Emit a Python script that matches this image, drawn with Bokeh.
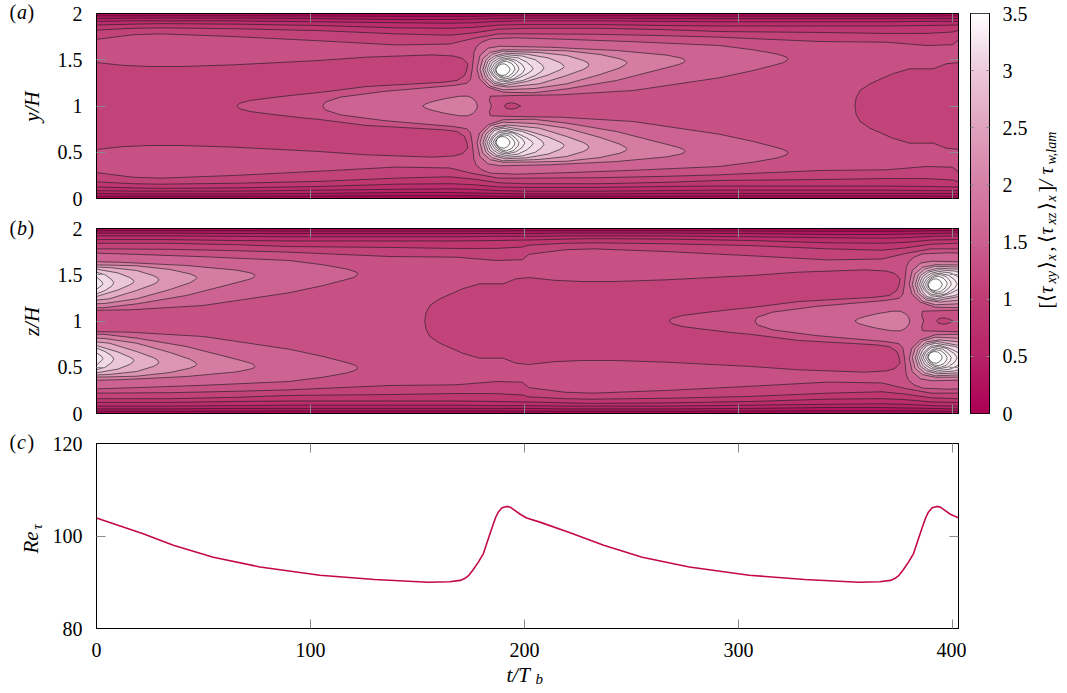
import math
import numpy as np
from bokeh.core.properties import value
from bokeh.embed import file_html
from bokeh.layouts import column, row
from bokeh.models import FixedTicker, LinearAxis, LinearColorMapper, Range1d
from bokeh.plotting import figure
from bokeh.resources import INLINE

# ---- panel (c) : friction Reynolds number
re_t = [0, 21.8, 35.9, 54.6, 76.4, 104.4, 130, 155, 165, 170, 172, 174, 176, 178.5, 180.8, 182.5, 184.7, 186.5, 187.8,
        189.5, 191.7, 193.5, 195.6, 198, 201, 207.2, 221.3, 237, 255, 277, 305, 331, 356, 366, 371, 373, 375, 377,
        379.5, 381.8, 383.5, 385.7, 387.5, 388.8, 390.5, 392.7, 394.5, 396.6, 399, 403]
re_v = [103.9, 100.5, 98, 95.4, 93.3, 91.5, 90.6, 90, 90.1, 90.4, 90.8, 91.5, 92.7, 94.4, 96.2, 98.6, 101.6, 104, 105.2,
        106.1, 106.4, 106.2, 105.5, 104.7, 103.9, 103, 100.7, 98, 95.4, 93.3, 91.5, 90.6, 90, 90.1, 90.4, 90.8, 91.5,
        92.7, 94.4, 96.2, 98.6, 101.6, 104, 105.2, 106.1, 106.4, 106.2, 105.5, 104.7, 103.9]

# ---- contour lines of the upper half of panel (a); the lower half mirrors them about y/H = 1
wall_t = [0, 17, 30, 65, 104, 140, 165, 176, 188, 200, 235, 266, 291, 338, 369, 388, 400, 403]
wall_02 = [1.975, 1.975, 1.975, 1.975, 1.973, 1.97, 1.97, 1.97, 1.975, 1.975, 1.975, 1.975, 1.972, 1.972, 1.972, 1.972, 1.975, 1.975]
wall_04 = [1.945, 1.95, 1.95, 1.95, 1.945, 1.935, 1.935, 1.94, 1.945, 1.95, 1.95, 1.945, 1.945, 1.945, 1.945, 1.945, 1.945, 1.945]
wall_06 = [1.915, 1.92, 1.92, 1.92, 1.91, 1.90, 1.895, 1.90, 1.915, 1.92, 1.92, 1.915, 1.91, 1.91, 1.91, 1.915, 1.915, 1.915]
wall_08 = [1.875, 1.885, 1.89, 1.885, 1.87, 1.845, 1.84, 1.85, 1.875, 1.88, 1.88, 1.87, 1.865, 1.865, 1.865, 1.87, 1.875, 1.875]
wall_10 = [1.82, 1.84, 1.845, 1.835, 1.815, 1.78, 1.765, 1.79, 1.83, 1.84, 1.84, 1.825, 1.805, 1.795, 1.784, 1.785, 1.80, 1.82]
wall_12 = [1.72, 1.77, 1.78, 1.75, 1.705, 1.66, 1.67, 1.73, 1.78, 1.78, 1.775, 1.76, 1.744, 1.697, 1.69, 1.654, 1.662, 1.72]

low_left_t = [0, 12, 25, 40, 64, 104, 126, 157, 167, 171, 173.5, 173, 172, 168.5, 162, 126, 104, 95, 82, 72, 67, 65.6]
low_left_y = [1.47, 1.44, 1.427, 1.427, 1.445, 1.492, 1.528, 1.553, 1.54, 1.515, 1.456, 1.39, 1.33, 1.276, 1.257, 1.21, 1.145, 1.125, 1.09, 1.06, 1.03, 1.0]
low_right_t = [403, 397, 391, 380, 372, 361.4, 356.8, 355, 354.4]
low_right_y = [1.47, 1.456, 1.402, 1.402, 1.348, 1.24, 1.168, 1.09, 1.0]
bowl_t = [190.6, 191.5, 194, 196, 198.2]
bowl_y = [1.0, 1.025, 1.035, 1.025, 1.0]

band14_t = [105.7, 106.8, 113.8, 134, 166.7, 173, 174.8, 175.6, 176.4, 177.5, 180, 184, 196, 220, 251, 291, 307, 318, 321, 322.6, 323, 322.6, 321, 318, 307, 291, 251, 217, 196, 184, 183.6, 184.5]
band14_y = [1.0, 1.041, 1.095, 1.157, 1.222, 1.245, 1.29, 1.402, 1.58, 1.64, 1.69, 1.726, 1.737, 1.72, 1.695, 1.654, 1.607, 1.562, 1.54, 1.525, 1.505, 1.49, 1.47, 1.45, 1.384, 1.305, 1.168, 1.121, 1.114, 1.106, 1.06, 1.0]
tongue16_t = [152.4, 154, 157.3, 163, 169.9, 173.6, 176, 177.5, 178]
tongue16_y = [1.0, 1.025, 1.049, 1.08, 1.106, 1.106, 1.08, 1.04, 1.0]

lobe16_t = [177.8, 179.2, 183, 188.5, 212, 243, 266.5, 272.5, 274.6, 275, 274.4, 272.5, 266.5, 243, 220, 204, 190, 183, 179]
lobe16_y = [1.402, 1.546, 1.625, 1.646, 1.635, 1.6, 1.55, 1.522, 1.505, 1.49, 1.47, 1.452, 1.415, 1.276, 1.186, 1.143, 1.149, 1.204, 1.294]
lobe18_t = [179.2, 180.5, 184, 190, 205, 219.7, 235.3, 244.6, 247.2, 247.9, 247, 244.6, 235.3, 219.7, 205, 190, 184, 180.5]
lobe18_y = [1.395, 1.51, 1.58, 1.608, 1.605, 1.597, 1.557, 1.51, 1.485, 1.467, 1.445, 1.413, 1.34, 1.24, 1.19, 1.175, 1.215, 1.30]
lobe20_t = [180.6, 182, 185, 190, 207, 219.7, 227.5, 229.6, 230.1, 229.4, 227.5, 219.7, 207, 192, 186, 182]
lobe20_y = [1.395, 1.50, 1.56, 1.592, 1.578, 1.546, 1.492, 1.465, 1.445, 1.42, 1.395, 1.33, 1.24, 1.205, 1.225, 1.30]
lobe22_t = [181.5, 183, 186, 191, 201, 211, 216.5, 218, 218.5, 218, 216.5, 211, 201, 191, 186, 183]
lobe22_y = [1.395, 1.49, 1.54, 1.571, 1.56, 1.52, 1.47, 1.445, 1.427, 1.41, 1.39, 1.335, 1.265, 1.222, 1.245, 1.31]
lobe24_t = [182.5, 184, 187, 191.5, 199, 205, 208, 209.1, 208, 205, 199, 190, 186, 184]
lobe24_y = [1.395, 1.48, 1.53, 1.554, 1.54, 1.5, 1.45, 1.413, 1.375, 1.33, 1.275, 1.24, 1.265, 1.32]
lobe26_t = [183.4, 185, 188, 191.5, 197, 201, 203.3, 204, 203.3, 201, 197, 192, 188, 185]
lobe26_y = [1.395, 1.47, 1.515, 1.535, 1.52, 1.475, 1.43, 1.405, 1.38, 1.345, 1.30, 1.262, 1.272, 1.33]
lobe28_t = [184.3, 186, 189, 192, 196, 198.8, 200.2, 199, 195, 191.5, 188, 185.5]
lobe28_y = [1.395, 1.46, 1.505, 1.517, 1.495, 1.45, 1.40, 1.355, 1.295, 1.276, 1.29, 1.34]
lobe30_t = [185.3, 187, 189.5, 192, 195, 197, 197.4, 196, 193.5, 191, 188.5, 186.3]
lobe30_y = [1.395, 1.455, 1.49, 1.503, 1.48, 1.43, 1.395, 1.35, 1.305, 1.294, 1.31, 1.35]
lobe32_t = [186.2, 187.5, 189.5, 191.5, 194, 195.3, 195.5, 194.5, 192.5, 190.5, 188.5, 187]
lobe32_y = [1.395, 1.445, 1.475, 1.484, 1.46, 1.42, 1.395, 1.355, 1.32, 1.311, 1.325, 1.355]
lobe34_t = [186.7, 187.5, 189, 190.5, 192, 193, 193.2, 192.5, 191, 189.5, 188, 187]
lobe34_y = [1.395, 1.43, 1.452, 1.456, 1.44, 1.41, 1.39, 1.36, 1.335, 1.33, 1.34, 1.365]

# colour scale
cmap_v = [0, 0.5, 1, 1.5, 2, 2.5, 3, 3.5]
cmap_r = [174, 184, 192, 204, 214, 225, 237, 255]
cmap_g = [0, 36, 60, 96, 128, 163, 201, 255]
cmap_b = [86, 104, 116, 144, 166, 191, 220, 255]
# shade on the scale that each filled band shows, keyed by the contour that bounds it from below
band_level = [0.2, 0.4, 0.6, 0.8, 1.0, 1.2, 1.4, 1.6, 1.8, 2.0, 2.2, 2.4, 2.6, 2.8, 3.0, 3.2, 3.4]
band_shade = [0.3, 0.5, 0.7, 0.9, 1.1, 1.3, 1.55, 1.95, 2.3, 2.65, 2.95, 3.15, 3.25, 3.32, 3.38, 3.44, 3.5]
y_marks = [0, 0.5, 1, 1.5, 2]
y_inner = [0.5, 1, 1.5]
t_marks = [0, 100, 200, 300, 400]
t_inner = [100, 200, 300, 400]
cb_marks = [0, 0.5, 1, 1.5, 2, 2.5, 3, 3.5]
cb_inner = [0.5, 1, 1.5, 2, 2.5, 3]
re_marks = [80, 100, 120]
re_inner = [100]
SHIFT_A = [0]
SHIFT_B = [202, -201]
T_END = 403

FONT = "Liberation Serif"
GREY = "#8a8a8a"
PX_T = 2.14


def col(v):
    r = np.interp(v, cmap_v, cmap_r)
    g = np.interp(v, cmap_v, cmap_g)
    b = np.interp(v, cmap_v, cmap_b)
    return "#%02x%02x%02x" % (int(r), int(g), int(b))


def mir(y):
    return [2 - v for v in y]


def both_halves(t, y):
    return list(t) + list(t)[::-1], list(y) + mir(y)[::-1]


def pad(t):
    return [v - 1 if v == 0 else v + 1 if v == T_END else v for v in t]


def loop(t, y):
    return list(t) + [t[0]], list(y) + [y[0]]


def field(p, shifts):
    wall = [(0.2, wall_02), (0.4, wall_04), (0.6, wall_06), (0.8, wall_08), (1.0, wall_10), (1.2, wall_12)]
    lobes = [(1.6, lobe16_t, lobe16_y), (1.8, lobe18_t, lobe18_y), (2.0, lobe20_t, lobe20_y), (2.2, lobe22_t, lobe22_y),
             (2.4, lobe24_t, lobe24_y), (2.6, lobe26_t, lobe26_y), (2.8, lobe28_t, lobe28_y), (3.0, lobe30_t, lobe30_y),
             (3.2, lobe32_t, lobe32_y), (3.4, lobe34_t, lobe34_y)]
    layers = []
    for lev, wy in wall:
        layers.append((lev, [both_halves(pad(wall_t), wy)]))
    layers.append((1.0, [both_halves(pad(low_left_t), low_left_y), both_halves(pad(low_right_t), low_right_y),
                         both_halves(bowl_t, bowl_y)]))
    layers.append((1.4, [both_halves(band14_t, band14_y)]))
    layers.append((1.6, [both_halves(tongue16_t, tongue16_y)]))
    for lev, lt, ly in lobes:
        layers.append((lev, [(lt, ly), (lt, mir(ly))]))
    for lev, polys in layers:
        xs, ys = [], []
        for s in shifts:
            for tt, yy in polys:
                xs.append([v + s for v in tt])
                ys.append(list(yy))
        c = col(float(np.interp(lev, band_level, band_shade)))
        p.patches(xs, ys, fill_color=c, line_color=None)

    lx, ly = [], []
    curves = []
    for _, wy in wall:
        curves += [(wall_t, wy), (wall_t, mir(wy))]
    curves += [both_halves(low_left_t, low_left_y), both_halves(low_right_t, low_right_y), both_halves(bowl_t, bowl_y),
               both_halves(band14_t, band14_y), both_halves(tongue16_t, tongue16_y)]
    for _, lt, yy in lobes:
        curves += [loop(lt, yy), loop(lt, mir(yy))]
    for s in shifts:
        for tt, yy in curves:
            lx.append([v + s for v in tt])
            ly.append(list(yy))
    p.multi_line(lx, ly, line_color="#1c1c1c", line_width=0.7, line_alpha=0.9)


def base(h, top, bottom, yr, bg=None):
    return figure(width=918, height=h, output_backend="svg", toolbar_location=None, frame_align=False,
                  x_range=Range1d(0, 862 / PX_T), y_range=Range1d(*yr), x_axis_type=None, y_axis_type=None,
                  min_border_left=48, min_border_right=8, min_border_top=top, min_border_bottom=bottom,
                  background_fill_color=bg, border_fill_color="white", outline_line_color="black",
                  outline_line_width=1, outline_line_alpha=1)


def axis_with_labels(marks, inner, length, standoff=8):
    return LinearAxis(ticker=FixedTicker(ticks=marks, minor_ticks=inner), major_tick_line_color=None,
                      minor_tick_in=length, minor_tick_out=0, minor_tick_line_color=GREY, axis_line_color="black",
                      major_label_standoff=standoff, major_label_text_font=FONT, major_label_text_font_size="20px",
                      major_label_text_color="black", major_label_overrides={v: str(v) for v in marks})


def axis_plain(inner, length):
    return LinearAxis(ticker=FixedTicker(ticks=[], minor_ticks=inner), major_tick_line_color=None,
                      minor_tick_in=length, minor_tick_out=0, minor_tick_line_color=GREY, axis_line_color="black",
                      major_label_standoff=0, major_label_text_font_size="1px")


def axes(p, x_inner, y_all, y_in, x_all=None):
    p.add_layout(axis_with_labels(y_all, y_in, 9), "left")
    p.add_layout(axis_plain(y_in, 9), "right")
    p.add_layout(axis_with_labels(x_all, x_inner, 9) if x_all else axis_plain(x_inner, 9), "below")
    p.add_layout(axis_plain(x_inner, 9), "above")


def strip(w, h, x0, y0):
    """A figure with no axes whose data coordinates are page pixels, for composite math labels."""
    return figure(width=w, height=h, output_backend="svg", toolbar_location=None, title=None, frame_align=False,
                  x_range=Range1d(x0, x0 + w), y_range=Range1d(y0 + h, y0),
                  x_axis_type=None, y_axis_type=None,
                  min_border=0, min_border_left=0, min_border_right=0, min_border_top=0, min_border_bottom=0,
                  outline_line_color=None, background_fill_color=None, border_fill_color=None)


def put(p, x, y, s, size=20, italic=False, angle=0.0, align="left", font=FONT):
    p.text([x], [y], text=[s], text_font=value(font), text_font_size=f"{size}px",
           text_font_style="italic" if italic else "normal", text_color="black", angle=angle,
           text_align=align, text_baseline="alphabetic")


UP = math.pi / 2

a = base(213, 13, 15, (0, 2), col(0.1))
field(a, SHIFT_A)
axes(a, t_inner, y_marks, y_inner)

b = base(215, 15, 15, (0, 2), col(0.1))
field(b, SHIFT_B)
axes(b, t_inner, y_marks, y_inner)

c = base(234, 15, 34, (80, 120))
c.line(re_t, re_v, line_color="#c4084e", line_width=1.6)
axes(c, t_inner, re_marks, re_inner, x_all=t_marks)

left = strip(48, 690, 0, 0)
for lab, base_y in (("a", 11), ("b", 227), ("c", 441)):
    put(left, 9, base_y, "(")
    put(left, 16.5, base_y, lab, italic=True)
    put(left, 27, base_y, ")")
put(left, 31, 106, "y/H", size=21, italic=True, angle=UP, align="center")
put(left, 31, 321, "z/H", size=21, italic=True, angle=UP, align="center")
put(left, 30, 553, "Re", size=21, italic=True, angle=UP)
put(left, 36, 529, "τ", size=15, italic=True, angle=UP)

under = strip(918, 28, 48, 662)
put(under, 506, 674, "t/T", size=21, italic=True)
put(under, 535, 678, "b", size=15, italic=True)

# colour bar
cb = figure(width=64, height=428, output_backend="svg", toolbar_location=None, frame_align=False,
            x_range=Range1d(0, 1), y_range=Range1d(0, 3.5), x_axis_type=None, y_axis_type=None,
            min_border_left=4, min_border_right=41, min_border_top=13, min_border_bottom=15,
            outline_line_color="black", outline_line_width=1)
grad = np.linspace(0, 3.5, 256)
cb.image(image=[grad.reshape(256, 1)], x=0, y=0, dw=1, dh=3.5,
         color_mapper=LinearColorMapper(palette=[col(v) for v in grad], low=0, high=3.5))
cb.add_layout(axis_plain(cb_inner, 3), "left")
cb.add_layout(axis_with_labels(cb_marks, cb_inner, 3, standoff=7), "right")

right = strip(34, 428, 1030, 0)
pieces = [("[", 0, 20, False, 0), ("⟨", 7, 20, False, 0), ("τ", 15, 20, True, 0), ("xy", 25, 14, True, 6),
          ("⟩", 40, 20, False, 0), ("x", 48, 14, True, 6), (",", 57, 20, False, 0), ("⟨", 66, 20, False, 0),
          ("τ", 74, 20, True, 0), ("xz", 84, 14, True, 6), ("⟩", 99, 20, False, 0), ("x", 107, 14, True, 6),
          ("]", 116, 20, False, 0), ("/", 123, 20, True, 0), ("τ", 134, 20, True, 0), ("w,lam", 144, 14, True, 6)]
for s, off, size, it, drop in pieces:
    put(right, 1045 + drop, 308 - off, s, size=size, italic=it, angle=UP)

page = row(left, column(a, b, c, under, spacing=0), cb, right, spacing=0)
open("out.html", "w").write(file_html(page, INLINE))
